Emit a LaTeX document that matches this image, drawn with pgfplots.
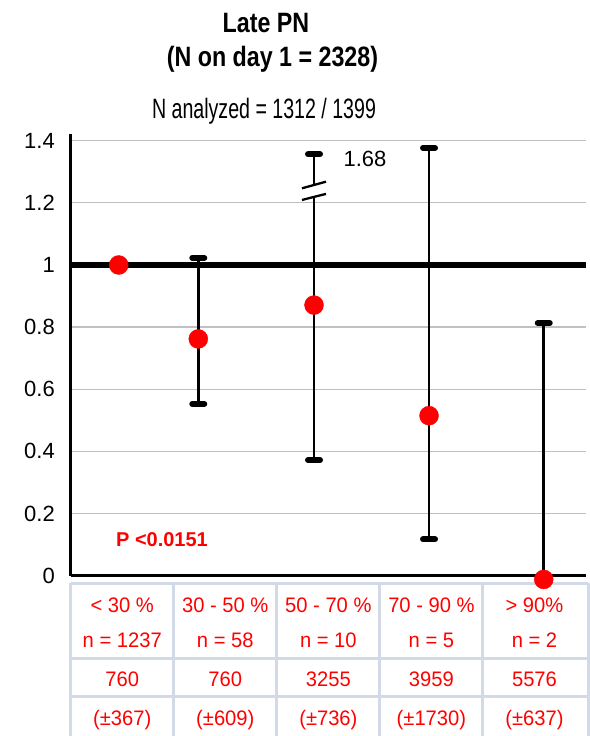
\documentclass[border=0pt]{standalone}
\usepackage{fontspec}
\setmainfont{Liberation Sans}
\newfontfamily\titlefont{Liberation Sans}[FakeStretch=0.83]
\newfontfamily\subfont{Liberation Sans}[FakeStretch=0.70]
\newfontfamily\tabfont{Liberation Sans}[FakeStretch=0.96]
\usepackage{pgfplots}
\pgfplotsset{compat=1.18}
\usepackage{pgfplotstable}

\definecolor{gridgray}{HTML}{C0C0C0}
\definecolor{tableline}{HTML}{D2DAE7}

% odds ratio per group: x position, estimate, upper and lower CI distance
% (the 50-70 % bar is cut at the axis top; its upper limit is 1.68)
\pgfplotstableread{
x      y       ep     em
0.466  1.000   0      0
1.238  0.762   0.261  0.209
2.361  0.871   0.485  0.499
3.477  0.515   0.862  0.398
4.590  -0.012  0.825  0
}\ratios

\begin{document}
\begin{tikzpicture}
\useasboundingbox (0,0) rectangle (589pt,736pt);

% titles
\node[anchor=base, font=\titlefont\bfseries\fontsize{28}{32}\selectfont]
  at (266pt,703.3pt) {Late PN};
\node[anchor=base, font=\titlefont\bfseries\fontsize{28}{32}\selectfont]
  at (272.5pt,669.3pt) {(N on day 1 = 2328)};
\node[anchor=base, font=\subfont\fontsize{28}{32}\selectfont]
  at (264pt,617.7pt) {N analyzed = 1312 / 1399};

\begin{axis}[
  at={(70.7pt,160.3pt)}, anchor=south west,
  scale only axis, width=515.3pt, height=435pt,
  xmin=0, xmax=5, ymin=0, ymax=1.4,
  clip=false,
  axis line style={draw=none},
  major tick length=0pt,
  ytick={0,0.2,0.4,0.6,0.8,1,1.2,1.4},
  yticklabels={0\hspace{-6.7pt},0.2,0.4,0.6,0.8,1\hspace{-6.7pt},1.2,1.4},
  ymajorgrids, major grid style={gridgray, line width=1.3pt},
  /pgf/number format/assume math mode=true,
  yticklabel style={font=\fontsize{22}{26}\selectfont, anchor=east,
    inner sep=0pt, xshift=-15.7pt},
  xtick={0.5,1.5,2.5,3.5,4.5},
  xticklabels={
    {\rule{0pt}{20.5pt}< 30 \%\\[-4.2pt] n = 1237\\ 760\\ (±367)},
    {\rule{0pt}{20.5pt}30 - 50 \%\\[-4.2pt] n = 58\\ 760\\ (±609)},
    {\rule{0pt}{20.5pt}50 - 70 \%\\[-4.2pt] n = 10\\ 3255\\ (±736)},
    {\rule{0pt}{20.5pt}70 - 90 \%\\[-4.2pt] n = 5\\ 3959\\ (±1730)},
    {\rule{0pt}{20.5pt}> 90\%\\[-4.2pt] n = 2\\ 5576\\ (±637)}},
  xticklabel style={align=center, text=red, anchor=north, inner sep=0pt,
    yshift=-16pt, font=\tabfont\fontsize{21}{39}\selectfont},
]
% table grid under the axis
\draw[tableline, line width=3pt]
  (axis cs:0,-0.0235) -- (axis cs:5.02,-0.0235)
  (axis cs:0,-0.268) -- (axis cs:5.02,-0.268)
  (axis cs:0,-0.389) -- (axis cs:5.02,-0.389)
  (axis cs:0,-0.0235) -- (axis cs:0,-0.52)
  (axis cs:1,-0.0235) -- (axis cs:1,-0.52)
  (axis cs:2,-0.0235) -- (axis cs:2,-0.52)
  (axis cs:3,-0.0235) -- (axis cs:3,-0.52)
  (axis cs:4,-0.0235) -- (axis cs:4,-0.52)
  (axis cs:5.02,-0.0235) -- (axis cs:5.02,-0.52);

% axes and reference line at 1
\draw[black, line width=3pt] (axis cs:0,0) -- (axis cs:0,1.4216);
\draw[black, line width=2.7pt] (axis cs:0,0) -- (axis cs:5,0);
\draw[black, line width=6.5pt] (axis cs:0,1) -- (axis cs:5,1);

% confidence intervals
\addplot[only marks, mark=none,
  error bars/.cd, y dir=both, y explicit,
  error bar style={black, line width=2.5pt},
  error mark options={black, rotate=90, line width=6pt, mark size=6pt,
    line cap=round}]
  table[x=x, y=y, y error plus=ep, y error minus=em] {\ratios};

% axis break on the 50-70 % interval
\fill[white] (axis cs:2.244,1.2468) -- (axis cs:2.477,1.2681)
  -- (axis cs:2.477,1.2287) -- (axis cs:2.244,1.2093) -- cycle;
\draw[black, line width=2.3pt]
  (axis cs:2.244,1.2468) -- (axis cs:2.477,1.2681)
  (axis cs:2.244,1.2093) -- (axis cs:2.477,1.2287);
\node[anchor=west, font=\fontsize{22}{26}\selectfont] at (axis cs:2.613,1.341) {1.68};

% point estimates
\addplot[only marks, mark=*, mark size=9.5pt, red,
  mark options={draw=red, fill=red}]
  table[x=x, y=y] {\ratios};

\node[text=red, font=\bfseries\fontsize{20}{24}\selectfont]
  at (axis cs:0.886,0.115) {P <0.0151};
\end{axis}
\end{tikzpicture}
\end{document}
